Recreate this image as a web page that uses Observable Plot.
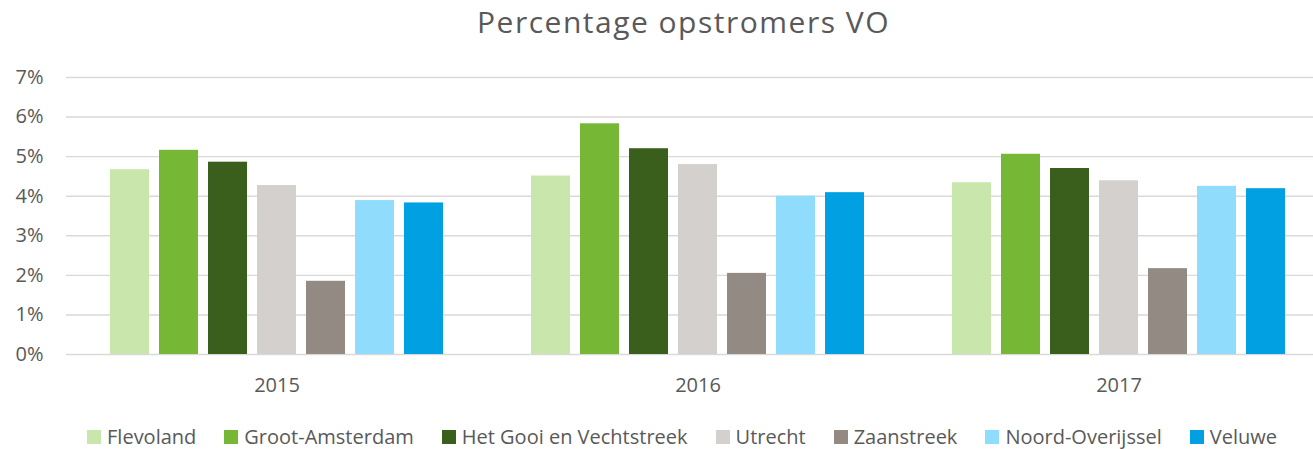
<!DOCTYPE html>
<html>
<head>
<meta charset="utf-8">
<script src="https://cdn.jsdelivr.net/npm/d3@7"></script>
<script src="https://cdn.jsdelivr.net/npm/@observablehq/plot@0.6"></script>
<style>
  html, body { margin: 0; padding: 0; background: #fff; overflow: hidden; }
  #wrap { position: relative; width: 1313px; height: 449px; overflow: hidden; font-family: "Open Sans", sans-serif; color: #595959; }
  #title { position: absolute; left: 0; width: 1313px; box-sizing: border-box; padding-left: 54px; top: 1px; text-align: center; font-size: 30px; letter-spacing: 1.5px; line-height: 41px; white-space: nowrap; }
  #chart { position: absolute; left: 0; top: 0; width: 1329px; }
  #chart svg { max-width: none !important; }
  #legend { position: absolute; left: 0; width: 1313px; box-sizing: border-box; padding-left: 51px; top: 423px; display: flex; justify-content: center; align-items: baseline; font-size: 20px; line-height: 28px; white-space: nowrap; }
  .item { display: flex; align-items: baseline; margin: 0 14px; }
  .sw { display: inline-block; width: 14px; height: 14px; margin-right: 6px; }
</style>
</head>
<body>
<div id="wrap">
  <div id="chart"></div>
  <div id="title"></div>
  <div id="legend"></div>
</div>
<script>
const titleText = "Percentage opstromers VO";
const years = ["2015", "2016", "2017"];
const regions = ["Flevoland", "Groot-Amsterdam", "Het Gooi en Vechtstreek", "Utrecht", "Zaanstreek", "Noord-Overijssel", "Veluwe"];
const flevoland = [4.67, 4.51, 4.34];
const grootAmsterdam = [5.16, 5.83, 5.06];
const hetGooi = [4.86, 5.20, 4.70];
const utrecht = [4.27, 4.80, 4.39];
const zaanstreek = [1.85, 2.05, 2.17];
const noordOverijssel = [3.89, 4.00, 4.25];
const veluwe = [3.83, 4.09, 4.19];
const yTicks = [0, 1, 2, 3, 4, 5, 6, 7];

const palette = ["#C9E6AC", "#76B736", "#3A5E1C", "#D3D0CD", "#938A84", "#8FDCFC", "#00A0E2"];
const series = [flevoland, grootAmsterdam, hetGooi, utrecht, zaanstreek, noordOverijssel, veluwe];

const rows = [];
years.forEach((year, i) => {
  regions.forEach((region, j) => {
    rows.push({year, region, value: series[j][i]});
  });
});

const chart = Plot.plot({
  width: 1329,
  height: 400,
  marginLeft: 66,
  marginRight: 0,
  marginTop: 77,
  marginBottom: 46,
  style: {fontFamily: "'Open Sans', sans-serif", color: "#595959", background: "transparent", maxWidth: "none"},
  fx: {domain: years, padding: 0, label: null},
  x: {domain: regions, paddingInner: 0.21, paddingOuter: 0.87, axis: null},
  y: {domain: [0, 7], axis: null},
  color: {domain: regions, range: palette},
  marks: [
    Plot.gridY(yTicks, {stroke: "#D9D9D9", strokeOpacity: 1, strokeWidth: 1.4}),
    Plot.barY(rows, {fx: "year", x: "region", y: "value", fill: "region"}),
    Plot.axisY(yTicks, {tickSize: 0, tickPadding: 23, tickFormat: d => d + "%", fontSize: 20, label: null}),
    Plot.axisFx({anchor: "bottom", tickSize: 0, tickPadding: 23, fontSize: 20, label: null})
  ]
});
chart.style.maxWidth = "none";
document.getElementById("chart").appendChild(chart);

document.getElementById("title").textContent = titleText;
const legend = document.getElementById("legend");
regions.forEach((r, j) => {
  const item = document.createElement("div");
  item.className = "item";
  const sw = document.createElement("span");
  sw.className = "sw";
  sw.style.background = palette[j];
  const t = document.createElement("span");
  t.textContent = r;
  item.appendChild(sw);
  item.appendChild(t);
  legend.appendChild(item);
});
</script>
</body>
</html>
